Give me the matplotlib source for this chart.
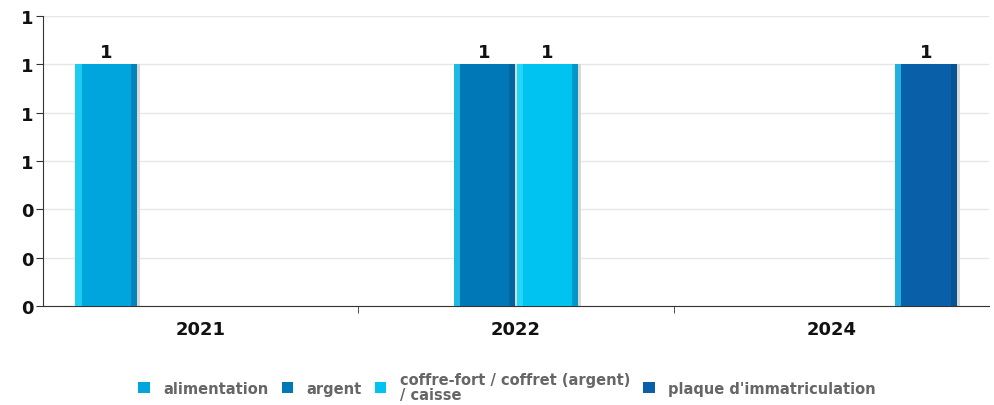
import numpy as np
import matplotlib.pyplot as plt
from matplotlib.ticker import FuncFormatter, FixedLocator

# Donnees
annees = ["2021", "2022", "2024"]
series = ["alimentation", "argent", "coffre-fort / coffret (argent)\n/ caisse", "plaque d'immatriculation"]
valeurs = {
    "alimentation": [1, 0, 0],
    "argent": [0, 1, 0],
    "coffre-fort / coffret (argent)\n/ caisse": [0, 1, 0],
    "plaque d'immatriculation": [0, 0, 1],
}
couleurs = ["#00a5dd", "#0077b6", "#00c3f2", "#0960a8"]

fig = plt.figure(figsize=(9.94, 4.06), dpi=100)
ax = fig.add_axes([0.0433, 0.2438, 0.9517, 0.7142])

x = np.arange(len(annees))
pas = 0.2
largeur = 0.195
for i, (nom, col) in enumerate(zip(series, couleurs)):
    pos = x + (i - 1.5) * pas
    vals = np.array(valeurs[nom], dtype=float)
    mask = vals > 0
    # ombre
    ax.bar(pos[mask] + 0.01, vals[mask], largeur, color="#d8d8d8", zorder=2)
    ax.bar(pos[mask], vals[mask], largeur, color=col, label=nom, zorder=3)
    # reflets a gauche et ombre a droite
    ax.bar(pos[mask] - largeur * 0.45, vals[mask], largeur * 0.1, color="#33e6ff", alpha=0.6, zorder=4, linewidth=0)
    ax.bar(pos[mask] + largeur * 0.45, vals[mask], largeur * 0.1, color="#003a66", alpha=0.3, zorder=4, linewidth=0)
    for px, v in zip(pos[mask], vals[mask]):
        ax.text(px, v + 0.015, "%d" % v, ha="center", va="bottom", fontsize=13, fontweight="bold", color="#111111", zorder=5)

ax.set_xlim(-0.5, len(annees) - 0.5)
ax.set_ylim(0, 1.2)
ax.set_yticks(np.arange(0, 1.21, 0.2))
ax.yaxis.set_major_formatter(FuncFormatter(lambda v, p: "%.0f" % v))
ax.set_xticks(x)
ax.set_xticklabels(annees)
ax.xaxis.set_minor_locator(FixedLocator(x[:-1] + 0.5))
ax.tick_params(axis="x", which="major", length=0, pad=10)
ax.tick_params(axis="x", which="minor", length=5, color="#333333")
ax.tick_params(axis="y", length=5, color="#333333", pad=2)
for lab in ax.get_xticklabels() + ax.get_yticklabels():
    lab.set_fontweight("bold")
    lab.set_fontsize(13)
    lab.set_color("#111111")

ax.grid(axis="y", color="#e6e6e6", linewidth=1, zorder=0)
ax.set_axisbelow(True)
ax.spines["top"].set_visible(False)
ax.spines["right"].set_visible(False)
ax.spines["left"].set_color("#333333")
ax.spines["bottom"].set_color("#333333")

handles, labels = ax.get_legend_handles_labels()
leg = fig.legend(handles, labels, loc="center", bbox_to_anchor=(0.51, 0.045), ncol=4,
                 frameon=False, fontsize=10.5, handlelength=0.8, handleheight=0.8,
                 handletextpad=0.9, columnspacing=0.9, labelspacing=0.2)
for t in leg.get_texts():
    t.set_color("#666666")
    t.set_fontweight("bold")
    t.set_linespacing(1.0)

fig.savefig("out.png", dpi=100)
